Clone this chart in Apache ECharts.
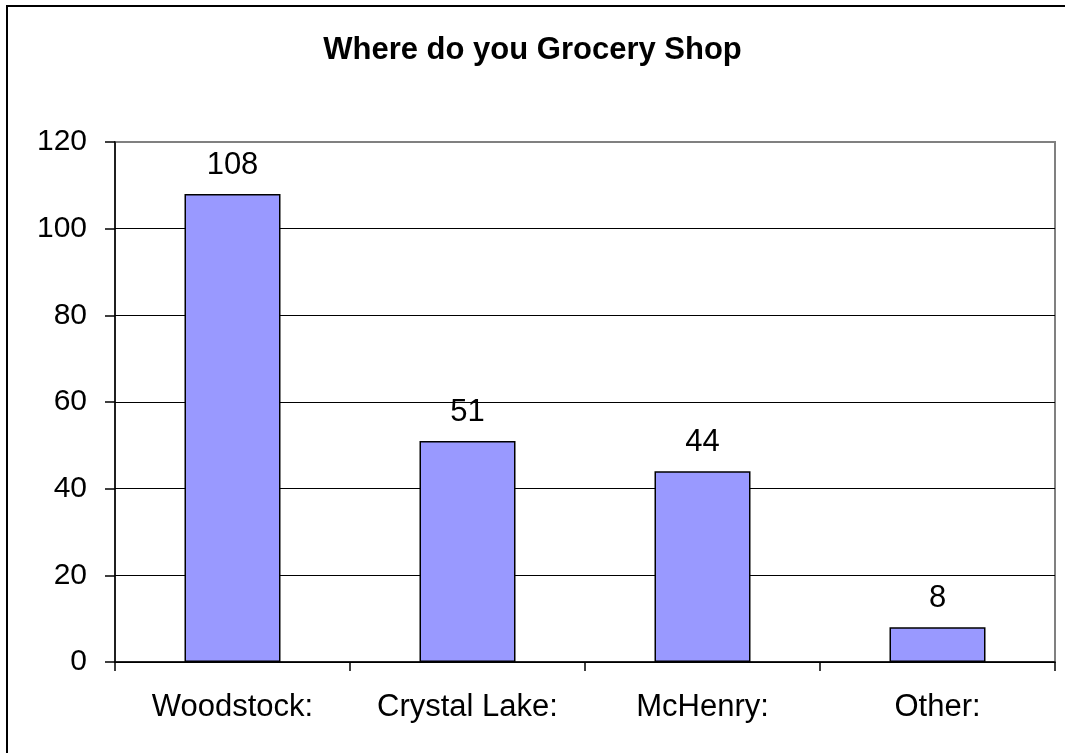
<!DOCTYPE html>
<html>
<head>
<meta charset="utf-8">
<script src="https://cdn.jsdelivr.net/npm/echarts@6/dist/echarts.min.js"></script>
<style>
  html, body { margin: 0; padding: 0; background: #fff; }
  #chart { width: 1065px; height: 753px; }
</style>
</head>
<body>
<div id="chart"></div>
<script>
// Survey answers: where respondents do their grocery shopping
const categories = ['Woodstock:', 'Crystal Lake:', 'McHenry:', 'Other:'];
const counts = [108, 51, 44, 8];
const yTicks = { min: 0, max: 120, interval: 20 };

const FONT = '"Liberation Sans", Arial, sans-serif';
const chart = echarts.init(document.getElementById('chart'), null, { renderer: 'canvas' });

chart.setOption({
  backgroundColor: '#ffffff',
  animation: false,
  graphic: [{
    type: 'rect',
    shape: { x: 7, y: 6, width: 1100, height: 800 },
    style: { fill: 'none', stroke: '#000', lineWidth: 2 },
    z: 100
  }],
  title: {
    text: 'Where do you Grocery Shop',
    left: 'center',
    top: 30,
    textStyle: { fontFamily: FONT, fontSize: 31, fontWeight: 'bold', color: '#000' }
  },
  grid: {
    left: 115, right: 10, top: 142, bottom: 91,
    show: true, borderColor: '#808080', borderWidth: 2, backgroundColor: 'transparent'
  },
  xAxis: {
    type: 'category',
    data: categories,
    axisLine: { lineStyle: { color: '#000', width: 1.5 } },
    axisTick: { show: true, interval: 0, length: 9, lineStyle: { color: '#000', width: 1.5 } },
    axisLabel: { interval: 0, margin: 30, fontFamily: FONT, fontSize: 31, color: '#000' }
  },
  yAxis: {
    type: 'value',
    min: yTicks.min, max: yTicks.max, interval: yTicks.interval,
    axisLine: { show: true, lineStyle: { color: '#000', width: 1.5 } },
    axisTick: { show: true, length: 10, lineStyle: { color: '#000', width: 1.5 } },
    axisLabel: { margin: 28, fontFamily: FONT, fontSize: 30, color: '#000' },
    splitLine: {
      lineStyle: {
        color: ['#000', '#000', '#000', '#000', '#000', '#000', '#808080'],
        width: 1.2
      }
    }
  },
  series: [{
    type: 'bar',
    data: counts,
    barWidth: 96,
    itemStyle: { color: '#9999FF', borderColor: '#000', borderWidth: 1.5 },
    label: {
      show: true, position: 'top', distance: 13,
      fontFamily: FONT, fontSize: 31, color: '#000'
    }
  }]
});
</script>
</body>
</html>
